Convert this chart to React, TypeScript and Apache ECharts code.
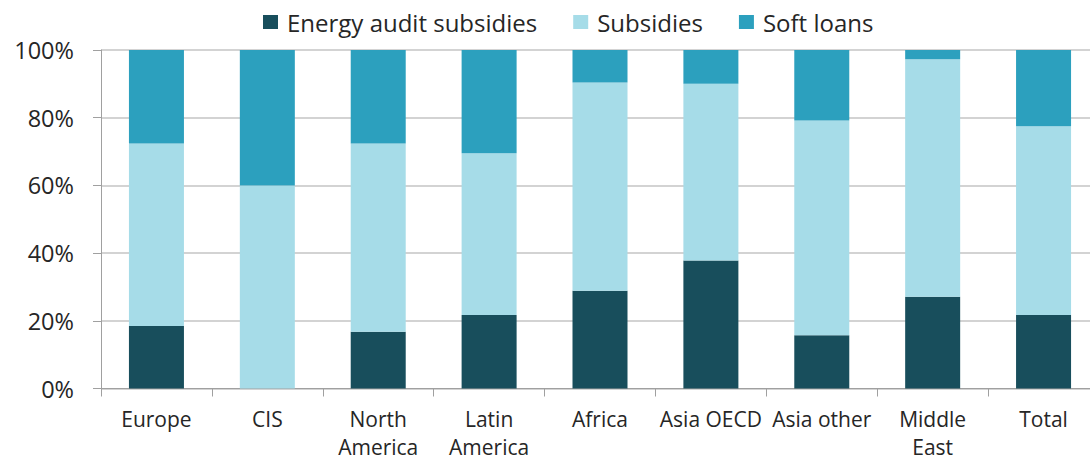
import React, { useEffect, useRef } from "react";
import * as echarts from "echarts";

const categories = ["Europe", "CIS", "North\nAmerica", "Latin\nAmerica", "Africa", "Asia OECD", "Asia other", "Middle\nEast", "Total"];
const energyAudit = [18.5, 0, 16.8, 21.7, 28.9, 37.8, 15.7, 27.1, 21.7];
const subsidies = [53.9, 60, 55.6, 47.8, 61.5, 52.2, 63.5, 70.2, 55.8];
const softLoans = [27.6, 40, 27.6, 30.5, 9.6, 10.0, 20.8, 2.7, 22.5];
const yTicks = [0, 20, 40, 60, 80, 100];

const FONT = "'Open Sans', 'Noto Sans', sans-serif";

export default function App() {
  const ref = useRef<HTMLDivElement>(null);
  useEffect(() => {
    if (!ref.current) return;
    const chart = echarts.init(ref.current, undefined, { renderer: "svg" });
    chart.setOption({
      animation: false,
      textStyle: { fontFamily: FONT },
      legend: {
        top: 5,
        left: 258,
        itemWidth: 15,
        itemHeight: 14,
        itemGap: 36,
        icon: "rect",
        textStyle: { fontSize: 24, color: "#262626", fontFamily: FONT, padding: [0, 0, 0, 4] },
        data: ["Energy audit subsidies", "Subsidies", "Soft loans"],
      },
      grid: { left: 101, right: -9, top: 50, bottom: 72.5, containLabel: false, outerBoundsMode: "none" },
      xAxis: {
        type: "category",
        data: categories,
        axisLine: { lineStyle: { color: "#a0a0a0", width: 1 } },
        axisTick: { show: true, length: 8, lineStyle: { color: "#a0a0a0" } },
        axisLabel: { fontSize: 21, color: "#262626", margin: 16, lineHeight: 28, interval: 0, fontFamily: FONT },
      },
      yAxis: {
        type: "value",
        min: 0,
        max: 100,
        interval: 20,
        axisLine: { show: true, lineStyle: { color: "#a0a0a0" } },
        axisTick: { show: true, length: 8, lineStyle: { color: "#a0a0a0" } },
        splitLine: { lineStyle: { color: "#c4c4c4", width: 1.5 } },
        axisLabel: {
          fontSize: 23.5,
          color: "#262626",
          margin: 27,
          fontFamily: FONT,
          formatter: (v: number) => (yTicks.includes(v) ? `${v}%` : ""),
        },
      },
      series: [
        { name: "Energy audit subsidies", type: "bar", stack: "s", data: energyAudit, barWidth: 55, itemStyle: { color: "#184E5C" } },
        { name: "Subsidies", type: "bar", stack: "s", data: subsidies, barWidth: 55, itemStyle: { color: "#A6DCE8" } },
        { name: "Soft loans", type: "bar", stack: "s", data: softLoans, barWidth: 55, itemStyle: { color: "#2CA0BE" } },
      ],
    });
    return () => chart.dispose();
  }, []);
  return <div ref={ref} style={{ width: 1090, height: 461, position: "absolute", left: 0, top: 0 }} />;
}
